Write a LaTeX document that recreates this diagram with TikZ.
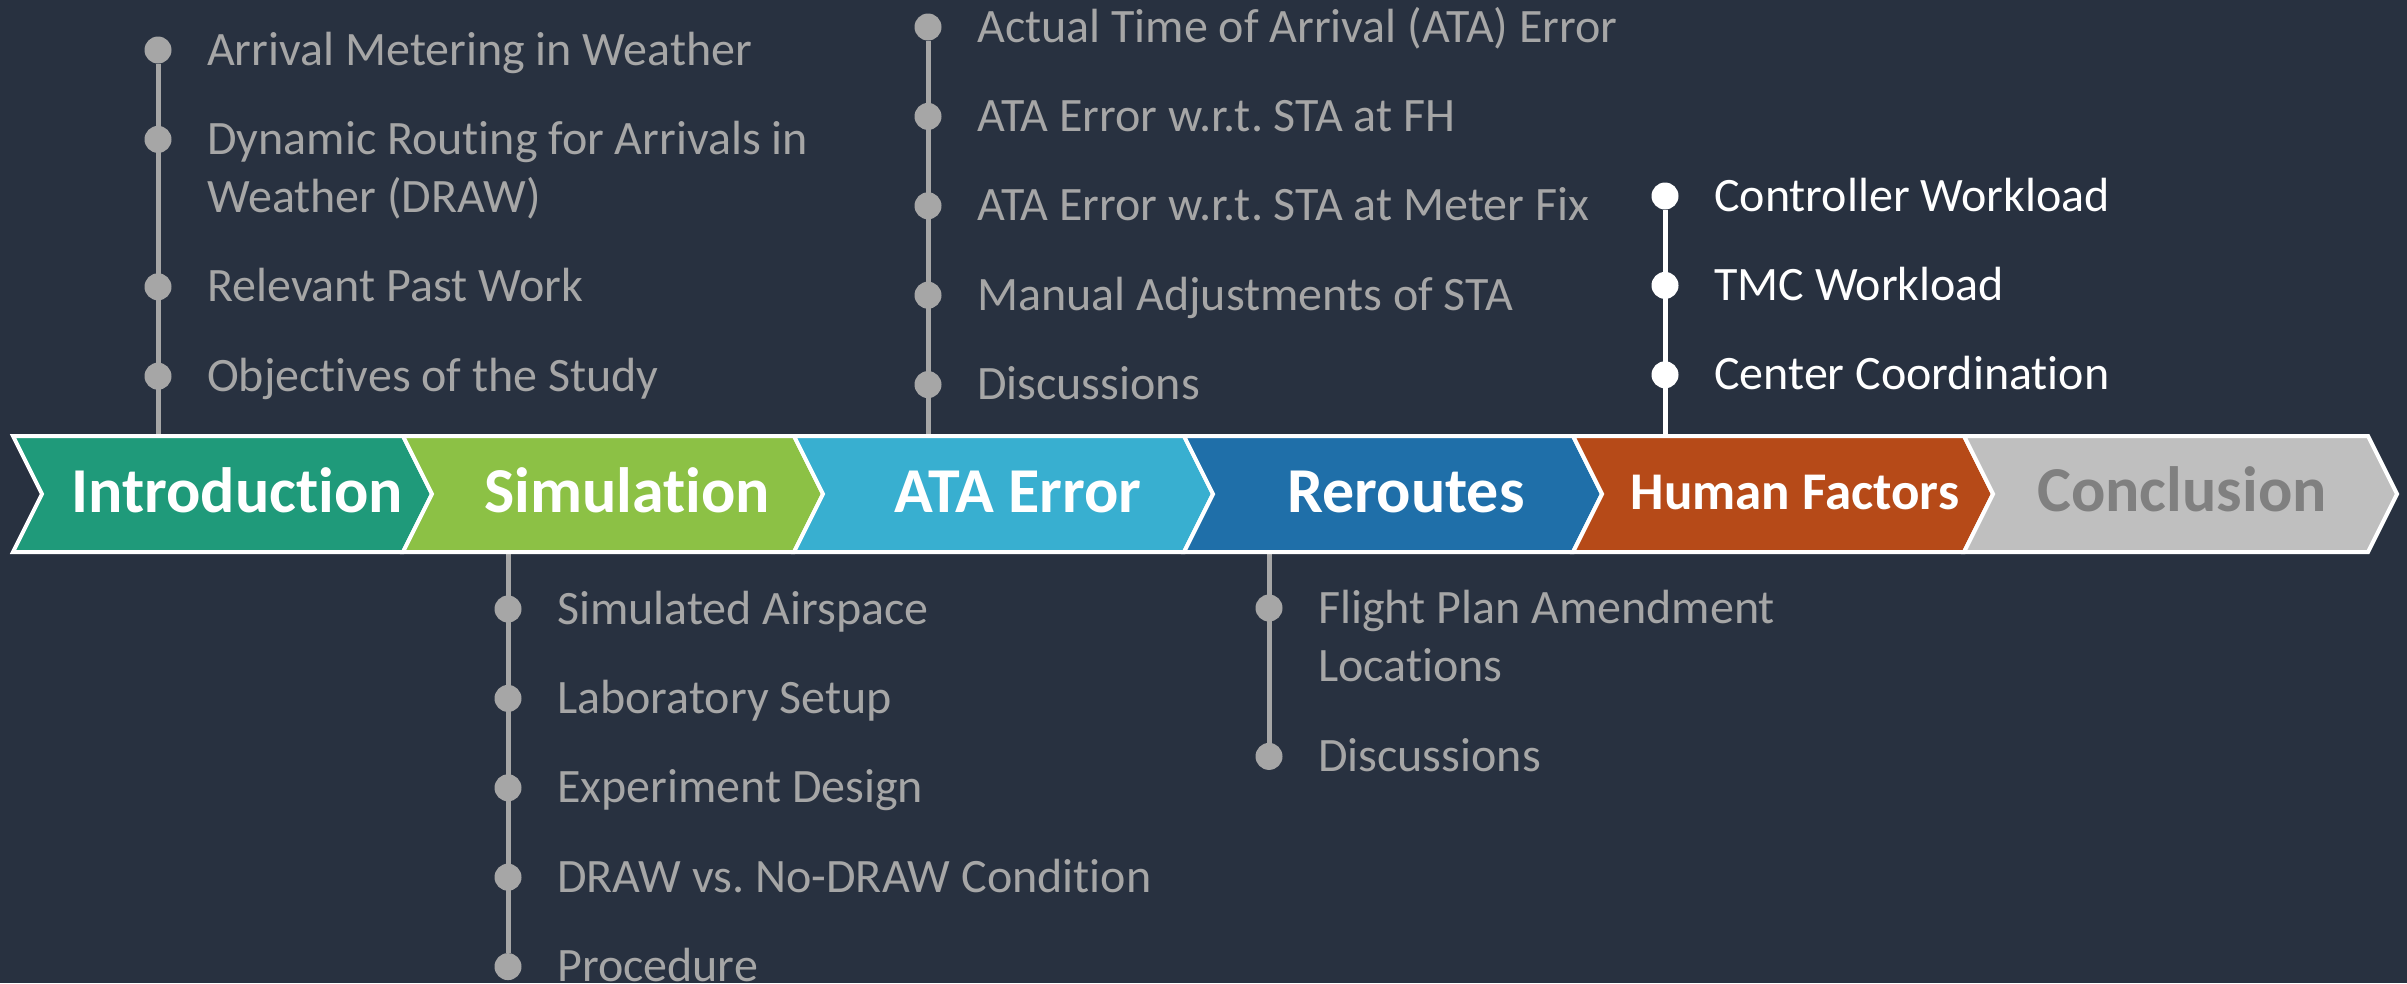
\documentclass[tikz,border=0pt]{standalone}
\usepackage{fontspec}
\setmainfont{Carlito}[Ligatures=NoCommon]
\usepackage{xcolor}
\usetikzlibrary{positioning}

\definecolor{bgslate}{HTML}{283140}
\definecolor{cintro}{HTML}{1F9A7A}
\definecolor{csim}{HTML}{8CC145}
\definecolor{cata}{HTML}{38AFD0}
\definecolor{creroute}{HTML}{1F6FA9}
\definecolor{chuman}{HTML}{B64A18}
\definecolor{cconcl}{HTML}{BFBFBF}
\definecolor{dotgray}{HTML}{A6A6A6}

\begin{document}
\frenchspacing
\begin{tikzpicture}[
    x=1pt, y=-1pt,
    node distance=62pt,
    seg/.style={draw=white, line width=4pt, line join=miter},
    head/.style={anchor=base, inner sep=0pt, text=white, font=\bfseries\fontsize{64}{70}\selectfont},
    dotg/.style={circle, fill=dotgray, inner sep=0pt, minimum size=27pt},
    dotw/.style={dotg, fill=white},
    item/.style={anchor=base west, inner sep=0pt, xshift=49pt, yshift=-15pt, text=dotgray, align=left, font=\fontsize{48}{58}\selectfont},
    itemtwo/.style={item, yshift=-58pt},
    stem/.style={draw=dotgray, line width=5pt}
]
    % Background
    \useasboundingbox [fill=bgslate] (0,0) rectangle (2407,983);

    % Stem end points on the band
    \coordinate (introtop) at (158,436);
    \coordinate (simbot) at (508,552);
    \coordinate (atatop) at (928,436);
    \coordinate (reroutebot) at (1269,552);
    \coordinate (humantop) at (1665,436);

    % Introduction items
    \node [dotg] (i1) at (158,50) {};
    \node [dotg, below=of i1] (i2) {};
    \node [dotg, below=120pt of i2] (i3) {};
    \node [dotg, below=of i3] (i4) {};
    \draw [stem] (introtop) -- (i1);
    \node [item] at (i1) {Arrival Metering in Weather};
    \node [itemtwo] at (i2) {Dynamic Routing for Arrivals in\\Weather (DRAW)};
    \node [item] at (i3) {Relevant Past Work};
    \node [item] at (i4) {Objectives of the Study};

    % Simulation items
    \node [dotg] (s1) at (508,609) {};
    \node [dotg, below=of s1] (s2) {};
    \node [dotg, below=of s2] (s3) {};
    \node [dotg, below=of s3] (s4) {};
    \node [dotg, below=of s4] (s5) {};
    \draw [stem] (simbot) -- (s5);
    \node [item] at (s1) {Simulated Airspace};
    \node [item] at (s2) {Laboratory Setup};
    \node [item] at (s3) {Experiment Design};
    \node [item] at (s4) {DRAW vs. No-DRAW Condition};
    \node [item] at (s5) {Procedure};

    % ATA Error items
    \node [dotg] (a1) at (928,27) {};
    \node [dotg, below=of a1] (a2) {};
    \node [dotg, below=of a2] (a3) {};
    \node [dotg, below=of a3] (a4) {};
    \node [dotg, below=of a4] (a5) {};
    \draw [stem] (atatop) -- (a1);
    \node [item] at (a1) {Actual Time of Arrival (ATA) Error};
    \node [item] at (a2) {ATA Error w.r.t. STA at FH};
    \node [item] at (a3) {ATA Error w.r.t. STA at Meter Fix};
    \node [item] at (a4) {Manual Adjustments of STA};
    \node [item] at (a5) {Discussions};

    % Reroutes items
    \node [dotg] (r1) at (1269,608) {};
    \node [dotg, below=121pt of r1] (r2) {};
    \draw [stem] (reroutebot) -- (r2);
    \node [itemtwo] at (r1) {Flight Plan Amendment\\Locations};
    \node [item] at (r2) {Discussions};

    % Human Factors items
    \node [dotw] (h1) at (1665,196) {};
    \node [dotw, below=of h1] (h2) {};
    \node [dotw, below=of h2] (h3) {};
    \draw [stem, draw=white] (humantop) -- (h1);
    \node [item, text=white] at (h1) {Controller Workload};
    \node [item, text=white] at (h2) {TMC Workload};
    \node [item, text=white] at (h3) {Center Coordination};

    % Chevron band
    \path [seg, fill=cintro] (13,436) -- (42,494) -- (13,552) -- (403,552) -- (432,494) -- (403,436) -- cycle;
    \path [seg, fill=csim] (403,436) -- (432,494) -- (403,552) -- (794,552) -- (823,494) -- (794,436) -- cycle;
    \path [seg, fill=cata] (794,436) -- (823,494) -- (794,552) -- (1184,552) -- (1213,494) -- (1184,436) -- cycle;
    \path [seg, fill=creroute] (1184,436) -- (1213,494) -- (1184,552) -- (1573,552) -- (1602,494) -- (1573,436) -- cycle;
    \path [seg, fill=chuman] (1573,436) -- (1602,494) -- (1573,552) -- (1964,552) -- (1993,494) -- (1964,436) -- cycle;
    \path [seg, fill=cconcl] (1964,436) -- (1993,494) -- (1964,552) -- (2368,552) -- (2397,494) -- (2368,436) -- cycle;

    % Band labels
    \node [head] (intro) at (237,512) {Introduction};
    \node [head] (sim) at (627,512) {Simulation};
    \node [head] (ata) at (1018,512) {ATA Error};
    \node [head] (reroute) at (1406,512) {Reroutes};
    \node [head, font=\bfseries\fontsize{53}{60}\selectfont] (human) at (1795,509) {Human Factors};
    \node [head, text=gray] (concl) at (2182,511) {Conclusion};
\end{tikzpicture}
\end{document}
